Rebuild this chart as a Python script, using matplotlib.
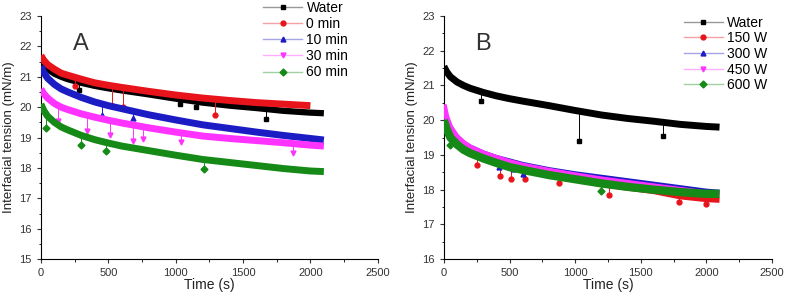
import numpy as np
import matplotlib.pyplot as plt
from matplotlib.colors import to_rgba

plt.rcParams['font.family'] = ['Liberation Sans', 'DejaVu Sans']

t = [0, 20, 50, 100, 150, 200, 300, 400, 500, 600, 800, 1000, 1200, 1400, 1600, 1800, 2000, 2100]
t_red_a = t[:-1]

# Panel A
water = [21.55, 21.4, 21.25, 21.1, 21.0, 20.92, 20.8, 20.7, 20.62, 20.55, 20.42, 20.28, 20.15,
         20.05, 19.97, 19.88, 19.82, 19.8]
min0 = [21.7, 21.55, 21.4, 21.25, 21.12, 21.05, 20.92, 20.8, 20.72, 20.65, 20.52, 20.4, 20.3,
        20.22, 20.15, 20.1, 20.05]
min10 = [21.35, 21.15, 20.95, 20.75, 20.6, 20.5, 20.32, 20.17, 20.05, 19.95, 19.75, 19.58, 19.42,
         19.3, 19.18, 19.07, 18.97, 18.92]
min30 = [20.6, 20.45, 20.3, 20.12, 20.0, 19.92, 19.78, 19.67, 19.57, 19.48, 19.32, 19.18, 19.05,
         18.97, 18.9, 18.83, 18.75, 18.72]
min60 = [20.1, 19.9, 19.7, 19.5, 19.35, 19.25, 19.07, 18.93, 18.82, 18.72, 18.57, 18.42, 18.28,
         18.18, 18.08, 17.98, 17.9, 17.88]

# Panel B
w150 = [20.1, 19.85, 19.6, 19.4, 19.25, 19.12, 18.95, 18.8, 18.68, 18.58, 18.42, 18.3, 18.15,
        18.05, 17.95, 17.8, 17.72, 17.7]
w300 = [20.25, 20.0, 19.75, 19.5, 19.33, 19.22, 19.05, 18.92, 18.82, 18.72, 18.57, 18.45, 18.35,
        18.25, 18.15, 18.05, 17.95, 17.92]
w450 = [20.45, 20.1, 19.8, 19.52, 19.35, 19.22, 19.05, 18.92, 18.8, 18.7, 18.55, 18.42, 18.3,
        18.2, 18.1, 18.0, 17.9, 17.87]
w600 = [20.0, 19.75, 19.5, 19.3, 19.15, 19.05, 18.9, 18.77, 18.65, 18.57, 18.42, 18.3, 18.18,
        18.08, 18.0, 17.93, 17.88, 17.88]

# outlier points (time, value)
out_water_a = ([280, 1030, 1150, 1670], [20.55, 20.1, 20.0, 19.6])
out_min0 = ([250, 530, 610, 1290], [20.7, 20.05, 20.0, 19.75])
out_min10 = ([450, 680], [19.75, 19.65])
out_min30 = ([130, 340, 510, 680, 760, 1040, 1870], [19.55, 19.2, 19.1, 18.9, 18.95, 18.85, 18.5])
out_min60 = ([40, 300, 480, 1210], [19.3, 18.75, 18.55, 17.95])
out_water_b = ([280, 1030, 1670], [20.55, 19.4, 19.55])
out_w150 = ([250, 430, 510, 620, 880, 1260, 1790, 2000], [18.7, 18.4, 18.3, 18.3, 18.2, 17.85, 17.65, 17.6])
out_w300 = ([420, 530, 600], [18.65, 18.6, 18.45])
out_w450 = ([], [])
out_w600 = ([50, 1200], [19.3, 17.95])

labels_a = ['Water', '0 min', '10 min', '30 min', '60 min']
labels_b = ['Water', '150 W', '300 W', '450 W', '600 W']
colors = ['black', '#e8141c', '#1c1cc4', '#ff33ff', '#168a16']
markers = ['s', 'o', '^', 'v', 'D']


def draw(ax, times, series, outs, labels, ylim, letter, widths):
    for i, (tt, v, o) in enumerate(zip(times, series, outs)):
        c = colors[i]
        ax.plot(tt, v, color=c, lw=widths[i], solid_capstyle='butt', zorder=2 + i)
        for ot, ov in zip(*o):
            base = np.interp(ot, tt, v)
            ax.plot([ot, ot], [base, ov], color=c, lw=0.7, zorder=2 + i)
            ax.plot(ot, ov, marker=markers[i], color=c, ms=3.5, zorder=2 + i)
        ax.plot([], [], color=to_rgba(c, 0.4), lw=1, marker=markers[i], ms=3.5,
                mfc=c, mec=c, label=labels[i])
    ax.set_xlim(0, 2500)
    ax.set_ylim(*ylim)
    ax.set_xticks(range(0, 2501, 500))
    ax.set_xticks(range(0, 2501, 250), minor=True)
    ax.set_yticks(range(ylim[0], ylim[1] + 1))
    ax.set_yticks(np.arange(ylim[0], ylim[1] + 0.01, 0.5), minor=True)
    ax.spines['top'].set_visible(False)
    ax.spines['right'].set_visible(False)
    ax.tick_params(labelsize=8, colors='#333333', length=3)
    ax.tick_params(which='minor', length=1.8)
    ax.set_xlabel('Time (s)', fontsize=10, color='#222222', labelpad=0)
    ax.set_ylabel('Interfacial tension (mN/m)', fontsize=9.5, color='#222222', labelpad=3)
    ax.text(0.095, 0.93, letter, transform=ax.transAxes, fontsize=17,
            va='top', color='#333333')


fig = plt.figure(figsize=(7.87, 3.02), dpi=100)
ax1 = fig.add_axes([0.052, 0.142, 0.428, 0.805])
ax2 = fig.add_axes([0.564, 0.142, 0.417, 0.805])

draw(ax1, [t, t_red_a, t, t, t], [water, min0, min10, min30, min60],
     [out_water_a, out_min0, out_min10, out_min30, out_min60], labels_a, (15, 23), 'A',
     [4.5, 5, 5, 5, 5])
draw(ax2, [t] * 5, [water, w150, w300, w450, w600],
     [out_water_b, out_w150, out_w300, out_w450, out_w600], labels_b, (16, 23), 'B',
     [5, 4, 4, 4, 6])

ax1.legend(loc='upper left', bbox_to_anchor=(0.64, 1.09), frameon=False, fontsize=10,
           handlelength=2.8, labelspacing=0.15, borderpad=0, handletextpad=0.3)
ax2.legend(loc='upper left', bbox_to_anchor=(0.71, 1.03), frameon=False, fontsize=10,
           handlelength=2.8, labelspacing=0.12, borderpad=0, handletextpad=0.3)

fig.savefig('out.png', dpi=100)
